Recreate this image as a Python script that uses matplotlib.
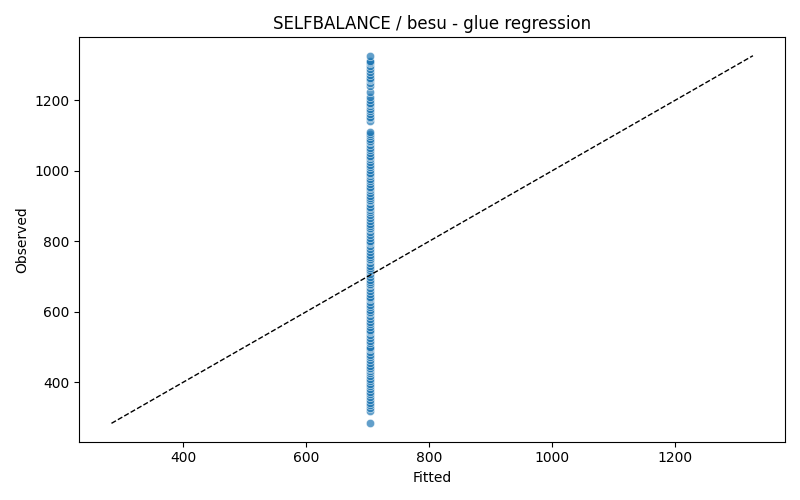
import matplotlib
matplotlib.use("Agg")
import matplotlib.pyplot as plt
import seaborn as sns

# valores observados (todos con el mismo ajuste)
fitted_value = 703
observed = [
    283, 318, 326, 335, 342, 350, 358, 366, 372, 380, 388, 395, 402, 410,
    418, 425, 432, 436, 440, 447, 455, 462, 470, 478, 486, 494, 497, 501,
    510, 518, 526, 534, 541, 545, 549, 556, 564, 572, 580, 588, 596, 600,
    604, 612, 620, 628, 636, 640, 643, 651, 659, 667, 675, 679, 683, 691,
    699, 707, 715, 719, 723, 731, 739, 746, 750, 754, 762, 770, 778, 786,
    794, 798, 802, 810, 818, 826, 834, 838, 842, 850, 858, 866, 874, 882,
    890, 894, 898, 906, 914, 918, 922, 930, 938, 946, 950, 954, 962, 970,
    978, 986, 990, 994, 1002, 1010, 1018, 1026, 1034, 1038, 1042, 1050,
    1058, 1066, 1074, 1082, 1086, 1090, 1098, 1104, 1110, 1141, 1149,
    1153, 1161, 1169, 1177, 1185, 1189, 1193, 1201, 1209, 1225, 1241,
    1249, 1257, 1261, 1265, 1273, 1281, 1289, 1297, 1305, 1309, 1312, 1327,
]
fitted = [fitted_value] * len(observed)

fig, ax = plt.subplots(figsize=(8, 5), dpi=100)
sns.scatterplot(x=fitted, y=observed, alpha=0.7, ax=ax)
lo, hi = min(observed), max(observed)
ax.plot([lo, hi], [lo, hi], color="black", linestyle="--", linewidth=1)
ax.set_xlabel("Fitted")
ax.set_ylabel("Observed")
ax.set_title("SELFBALANCE / besu - glue regression")
fig.tight_layout()
fig.savefig("out.png")
